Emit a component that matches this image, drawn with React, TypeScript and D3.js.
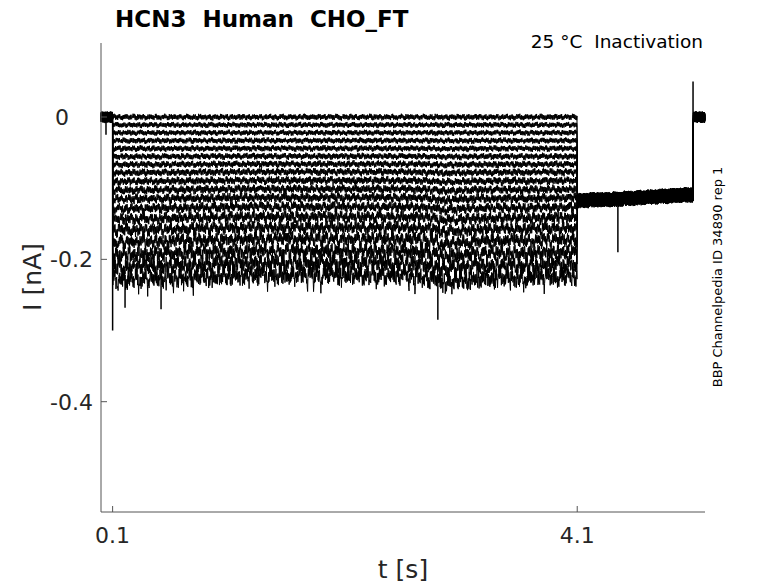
import * as d3 from "d3";

const W = 778;
const H = 583;

// axis ranges (s, nA)
const tDomain: [number, number] = [0, 5.2];
const iDomain: [number, number] = [-0.555, 0.104];
const xTicks = [0.1, 4.1];
const yTicks = [0, -0.2, -0.4];
const yTickLabels = ["0", "-0.2", "-0.4"];

// protocol phases (s)
const holdEnd = 0.1;
const stepEnd = 4.1;
const tailEnd = 5.1;
const sampleDt = 0.003;

// current level of each sweep during the test pulse (nA)
const stepLevels = [
  0, -0.011, -0.022, -0.033, -0.044, -0.055, -0.066, -0.077, -0.089,
  -0.101, -0.113, -0.126, -0.14, -0.155, -0.171, -0.188, -0.205, -0.222,
];
// noise half-range of each sweep during the test pulse (nA)
const stepNoise = [
  0.0036, 0.0033, 0.0033, 0.0034, 0.0035, 0.0037, 0.0039, 0.0041, 0.0044,
  0.0047, 0.005, 0.0054, 0.0059, 0.0064, 0.007, 0.0076, 0.0083, 0.0092,
];
// slow drift of the deepest sweep, one value per 0.1 s of the pulse (nA)
const stepWander = [
  -0.006, -0.006, -0.005, -0.005, -0.004, -0.003, -0.003, -0.002, -0.002, -0.001,
  0, 0, 0.001, 0, 0, 0.001, 0, 0, 0.001, 0,
  0, 0, 0.001, 0, 0, 0, -0.001, -0.004, -0.01, -0.008,
  -0.006, -0.004, -0.004, -0.003, -0.003, -0.004, -0.003, -0.002, -0.002, -0.001,
];
// tail level after the pulse, one value per 0.1 s (nA)
const tailLevels = [
  -0.117, -0.116, -0.116, -0.115, -0.114, -0.113, -0.112, -0.111, -0.11, -0.109,
];
const holdNoise = 0.006;
const tailNoise = 0.008;
const endNoise = 0.006;

// recorded noise pattern (normalised)
const noise = [
  0.35, -0.52, 0.81, -0.18, -0.94, 0.42, 0.12, -0.63, 0.71, -0.27,
  0.55, -1.0, 0.23, 0.64, -0.41, -0.08, 0.88, -0.72, 0.31, -0.19,
  0.6, -0.85, 0.04, 0.45, -0.56, 0.73, -0.33, -0.67, 0.2, 0.79,
  -0.92, 0.48, -0.11, 0.29, -0.44, 0.62, -0.77, 0.15, 0.9, -0.24,
  -0.53, 0.38, -0.83, 0.69, -0.31, 0.17, -0.61, 0.52, -0.98, 0.33,
  0.09, -0.43, 0.76, -0.21, 0.58, -0.9, 0.41, -0.14, -0.5, 0.66,
  -0.36, 0.86, -0.64, 0.22, -0.8, 0.47, 0.02, -0.39, 0.6, -0.74,
  0.27, -0.17, 0.78, -0.55, 0.13, -0.96, 0.44, 0.7, -0.3, -0.6,
  0.51, -0.07, 0.24, -0.82, 0.57, -0.45, 0.87, -0.26, -0.7, 0.32,
  0.1, -0.48, 0.8, -0.34, 0.4, -0.65, 0.68,
];

// artefact spikes: [t (s), from (nA), to (nA)]
const spikes: [number, number, number][] = [
  [0.043, 0, -0.025],
  [0.1, 0, -0.3],
  [0.207, -0.222, -0.268],
  [0.517, -0.222, -0.27],
  [2.9, -0.235, -0.285],
  [4.45, -0.113, -0.19],
  [5.097, -0.11, 0.05],
];

const title = "HCN3  Human  CHO_FT";
const subtitle = "25 °C  Inactivation";
const sideNote = "BBP Channelpedia ID 34890 rep 1";
const xLabel = "t [s]";
const yLabel = "I [nA]";

const M = { left: 101, right: 705, top: 43, bottom: 512 };
const x = d3.scaleLinear().domain(tDomain).range([M.left, M.right]);
const y = d3.scaleLinear().domain(iDomain).range([M.bottom, M.top]);

const nSamples = Math.round((tDomain[1] - tDomain[0]) / sampleDt);
const N = noise.length;

function noiseAt(i: number, k: number, depth: number) {
  const a = noise[(i + 11 * k) % N];
  const b = noise[(Math.floor(i / 7) + 29 * k + 3) % N];
  const c = noise[(Math.floor(i / 3) + 17 * k + 41) % N];
  const fast = Math.sign(a) * Math.sqrt(Math.abs(a));
  // deeper sweeps show occasional downward excursions and more slow wander
  const dip = c < -0.8 ? c * depth * 1.2 : 0;
  return fast + (0.45 + 0.4 * depth) * b + dip;
}

function sweep(k: number): [number, number][] {
  const pts: [number, number][] = [];
  const depth = Math.pow(k / (stepLevels.length - 1), 2);
  for (let i = 0; i <= nSamples; i++) {
    const t = i * sampleDt;
    let v: number;
    if (t < holdEnd - 1e-9) {
      v = holdNoise * noiseAt(i, k, 0);
    } else if (t < stepEnd - 1e-9) {
      const w = stepWander[Math.min(stepWander.length - 1, Math.floor((t - holdEnd) / 0.1 + 1e-9))];
      v = stepLevels[k] + w * depth + stepNoise[k] * noiseAt(i, k, depth);
    } else if (t < tailEnd - 1e-9) {
      const lvl = tailLevels[Math.min(tailLevels.length - 1, Math.floor((t - stepEnd) / 0.1 + 1e-9))];
      v = lvl + tailNoise * noiseAt(i, k, 0);
    } else {
      v = endNoise * noiseAt(i, k, 0);
    }
    pts.push([t, v]);
  }
  return pts;
}

const line = d3
  .line<[number, number]>()
  .x((d) => x(d[0]))
  .y((d) => y(d[1]));

const font = "'DejaVu Sans', sans-serif";
const axisColor = "#555555";
const textColor = "#262626";
const pre = { whiteSpace: "pre" as const };

export default function App() {
  const sweeps = stepLevels.map((_, k) => line(sweep(k)) || "");
  return (
    <svg
      width={W}
      height={H}
      style={{ position: "absolute", left: 0, top: 0, background: "#fff" }}
      fontFamily={font}
    >
      <rect width={W} height={H} fill="#fff" />
      <g>
        {sweeps.map((d, k) => (
          <path key={k} d={d} fill="none" stroke="#000" strokeWidth={1} strokeLinejoin="round" />
        ))}
        {spikes.map(([t, a, b], i) => (
          <line key={i} x1={x(t)} x2={x(t)} y1={y(a)} y2={y(b)} stroke="#000" strokeWidth={1.5} />
        ))}
      </g>

      {/* axes */}
      <line x1={M.left} x2={M.left} y1={M.top} y2={M.bottom} stroke={axisColor} strokeWidth={1} />
      <line x1={M.left} x2={M.right} y1={M.bottom} y2={M.bottom} stroke={axisColor} strokeWidth={1} />
      {xTicks.map((t) => (
        <g key={t}>
          <line x1={x(t)} x2={x(t)} y1={M.bottom} y2={M.bottom - 6} stroke={axisColor} />
          <text x={x(t)} y={543} textAnchor="middle" fontSize={22} fill={textColor}>
            {t.toFixed(1)}
          </text>
        </g>
      ))}
      {yTicks.map((v, i) => (
        <g key={v}>
          <line x1={M.left} x2={M.left + 6} y1={y(v)} y2={y(v)} stroke={axisColor} />
          <text
            x={v === 0 ? 69 : 93}
            y={y(v)}
            dy="0.36em"
            textAnchor="end"
            fontSize={22}
            fill={textColor}
          >
            {yTickLabels[i]}
          </text>
        </g>
      ))}

      <text x={403} y={578} textAnchor="middle" fontSize={25} fill={textColor} style={pre}>
        {xLabel}
      </text>
      <text
        transform="translate(41,277) rotate(-90)"
        textAnchor="middle"
        fontSize={25}
        fill={textColor}
        style={pre}
      >
        {yLabel}
      </text>

      <text x={115} y={27} fontSize={23} fontWeight="bold" fill="#000" style={pre}>
        {title}
      </text>
      <text x={703} y={48} textAnchor="end" fontSize={18.5} fill="#000" style={pre}>
        {subtitle}
      </text>
      <text
        transform="translate(722,277) rotate(-90)"
        textAnchor="middle"
        fontSize={13}
        fill="#000"
        style={pre}
      >
        {sideNote}
      </text>
    </svg>
  );
}
